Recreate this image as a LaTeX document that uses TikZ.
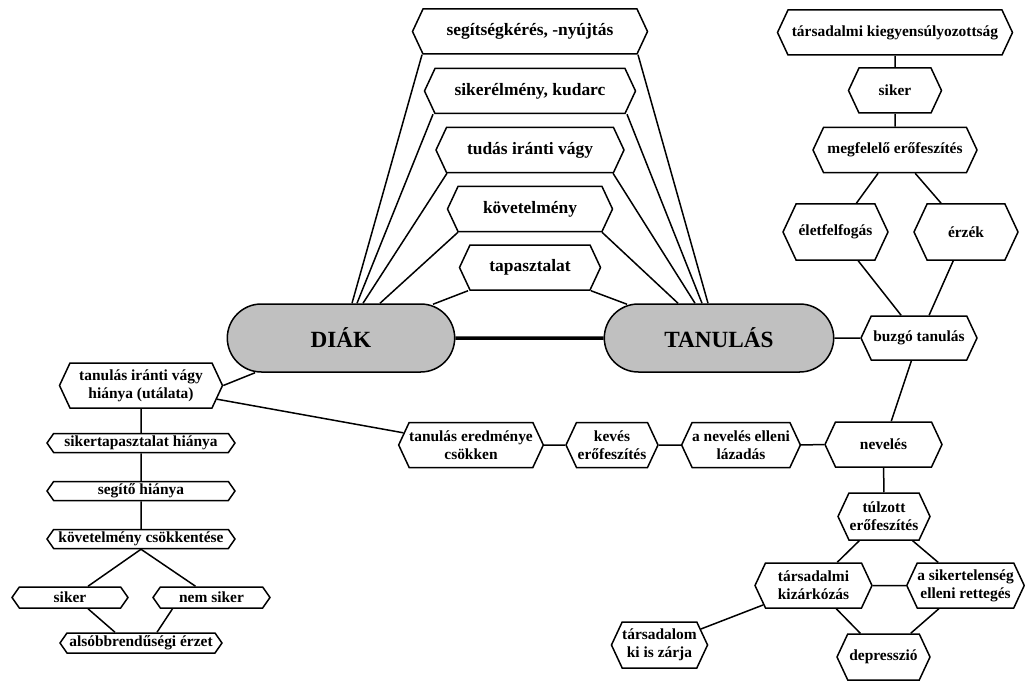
\documentclass[tikz,border=0pt]{standalone}
\usepackage{fontspec}
\setmainfont{Liberation Serif}
\usetikzlibrary{shapes.symbols,shapes.misc,calc}
\definecolor{capsulegray}{RGB}{192,192,192}

\begin{document}
\begin{tikzpicture}[line width=1.5bp, x=1bp, y=-1bp]
          \tikzstyle{every node}=[font=\bfseries\fontsize{15.5}{17.8}\selectfont]
          \tikzstyle{hexa}=[draw, signal, signal to=west and east, signal pointer angle=130, inner sep=0pt, align=center, minimum height=45bp]
          \tikzstyle{bighexa}=[hexa, font=\bfseries\fontsize{17.5}{20}\selectfont]
          \tikzstyle{flathexa}=[hexa, signal pointer angle=110, minimum height=19bp]
          \tikzstyle{capsule}=[draw, rounded rectangle, fill=capsulegray, minimum width=234bp, minimum height=68bp, font=\bfseries\fontsize{23.3}{26}\selectfont]
          \useasboundingbox (0,0) rectangle (1025,681);

            % middle
            \node[bighexa, minimum width=235bp] (segit) at (530,31.5) {segítségkérés, -nyújtás};
            \node[bighexa, minimum width=211bp] (sikerel) at (530,91) {sikerélmény, kudarc};
            \node[bighexa, minimum width=188bp] (tudas) at (530,150) {tudás iránti vágy};
            \node[bighexa, minimum width=165bp] (kovet) at (530,209) {követelmény};
            \node[bighexa, minimum width=141bp] (tapasz) at (530,267.5) {tapasztalat};
            \node[capsule] (diak) at (341,338) {DIÁK};
            \node[capsule, minimum width=236bp] (tanul) at (719,338) {TANULÁS};

            % right
            \node[hexa, minimum width=235bp] (kiegy) at (895,32.5) {társadalmi kiegyensúlyozottság};
            \node[hexa, minimum width=93bp] (rsiker) at (895,90.5) {siker};
            \node[hexa, minimum width=164bp] (megf) at (895,150) {megfelelő erőfeszítés};
            \node[hexa, minimum width=105bp, minimum height=56bp] (elet) at (835.5,232) {életfelfogás};
            \node[hexa, minimum width=104bp, minimum height=56bp] (erzek) at (966,232) {érzék};
            \node[hexa, minimum width=116bp, minimum height=44bp] (buzgo) at (919,338) {buzgó tanulás};
            \node[hexa, minimum width=117bp] (nev) at (883.5,444.5) {nevelés};
            \node[hexa, minimum width=116bp] (lazad) at (741,445) {a nevelés elleni\\lázadás};
            \node[hexa, minimum width=92bp] (keves) at (612,445) {kevés\\erőfeszítés};
            \node[hexa, minimum width=140bp] (ered) at (471,445) {tanulás eredménye\\csökken};

            % bottom right
            \node[hexa, minimum width=92bp, minimum height=47bp] (tulz) at (884,516.5) {túlzott\\erőfeszítés};
            \node[hexa, minimum width=117bp] (kizar) at (813.5,585.5) {társadalmi\\kizárkózás};
            \node[hexa, minimum width=117bp] (retteg) at (965.5,585.5) {a sikertelenség\\elleni rettegés};
            \node[hexa, minimum width=93bp, minimum height=46bp] (depr) at (883.5,657) {depresszió};
            \node[hexa, minimum width=93bp, minimum height=46bp] (kizarja) at (659.5,645) {társadalom\\ki is zárja};

            % left
            \node[hexa, minimum width=163bp] (utalat) at (141,385.5) {tanulás iránti vágy\\hiánya (utálata)};
            \node[flathexa, minimum width=188bp] (sikhiany) at (141,443) {sikertapasztalat hiánya};
            \node[flathexa, minimum width=188bp] (seghiany) at (141,491) {segítő hiánya};
            \node[flathexa, minimum width=188bp] (csokk) at (141,539) {követelmény csökkentése};
            \node[flathexa, minimum width=116bp, minimum height=21bp] (lsiker) at (70,597.5) {siker};
            \node[flathexa, minimum width=117bp, minimum height=21bp] (nemsiker) at (211.5,597.5) {nem siker};
            \node[flathexa, minimum width=162bp, minimum height=20bp] (also) at (141,643) {alsóbbrendűségi érzet};

            \draw[line width=3.5bp] (diak) -- (tanul);
            \draw ($(segit.south)+(-108,0)$) -- ($(diak.north)+(11,0)$);
            \draw ($(sikerel.south)+(-97,0)$) -- ($(diak.north)+(16,0)$);
            \draw ($(tudas.south)+(-83,0)$) -- ($(diak.north)+(22,0)$);
            \draw ($(kovet.south)+(-72,0)$) -- ($(diak.north)+(39,0)$);
            \draw ($(tapasz.south)+(-62,0)$) -- ($(diak.north)+(92,1)$);
            \draw ($(segit.south)+(108,0)$) -- ($(tanul.north)+(-11,0)$);
            \draw ($(sikerel.south)+(97,0)$) -- ($(tanul.north)+(-17,0)$);
            \draw ($(tudas.south)+(83,0)$) -- ($(tanul.north)+(-24,0)$);
            \draw ($(kovet.south)+(72,0)$) -- ($(tanul.north)+(-41,0)$);
            \draw ($(tapasz.south)+(61,0)$) -- ($(tanul.north)+(-92,1)$);

            \draw (kiegy) -- (rsiker);
            \draw (rsiker) -- (megf);
            \draw (megf) -- (elet);
            \draw (megf) -- (erzek);
            \draw (elet) -- (buzgo);
            \draw (erzek) -- (buzgo);
            \draw (tanul) -- (buzgo);
            \draw (buzgo) -- (nev);
            \draw (nev) -- (lazad);
            \draw (lazad) -- (keves);
            \draw (keves) -- (ered);
            \draw (utalat) -- (ered);
            \draw (nev) -- (tulz);
            \draw (tulz) -- (kizar);
            \draw (tulz) -- (retteg);
            \draw (kizar) -- (retteg);
            \draw (kizar) -- (depr);
            \draw (retteg) -- (depr);
            \draw (kizar) -- (kizarja);

            \draw (utalat.east) -- ($(diak.south)+(-86,0)$);
            \draw (utalat) -- (sikhiany);
            \draw (sikhiany) -- (seghiany);
            \draw (seghiany) -- (csokk);
            \draw (csokk.south) -- ($(lsiker.north)+(18,0)$);
            \draw (csokk.south) -- ($(nemsiker.north)+(-16,0)$);
            \draw ($(lsiker.south)+(18,0)$) -- ($(also.north)+(-26,0)$);
            \draw ($(nemsiker.south)+(-39,0)$) -- ($(also.north)+(16,0)$);
        \end{tikzpicture}
\end{document}
